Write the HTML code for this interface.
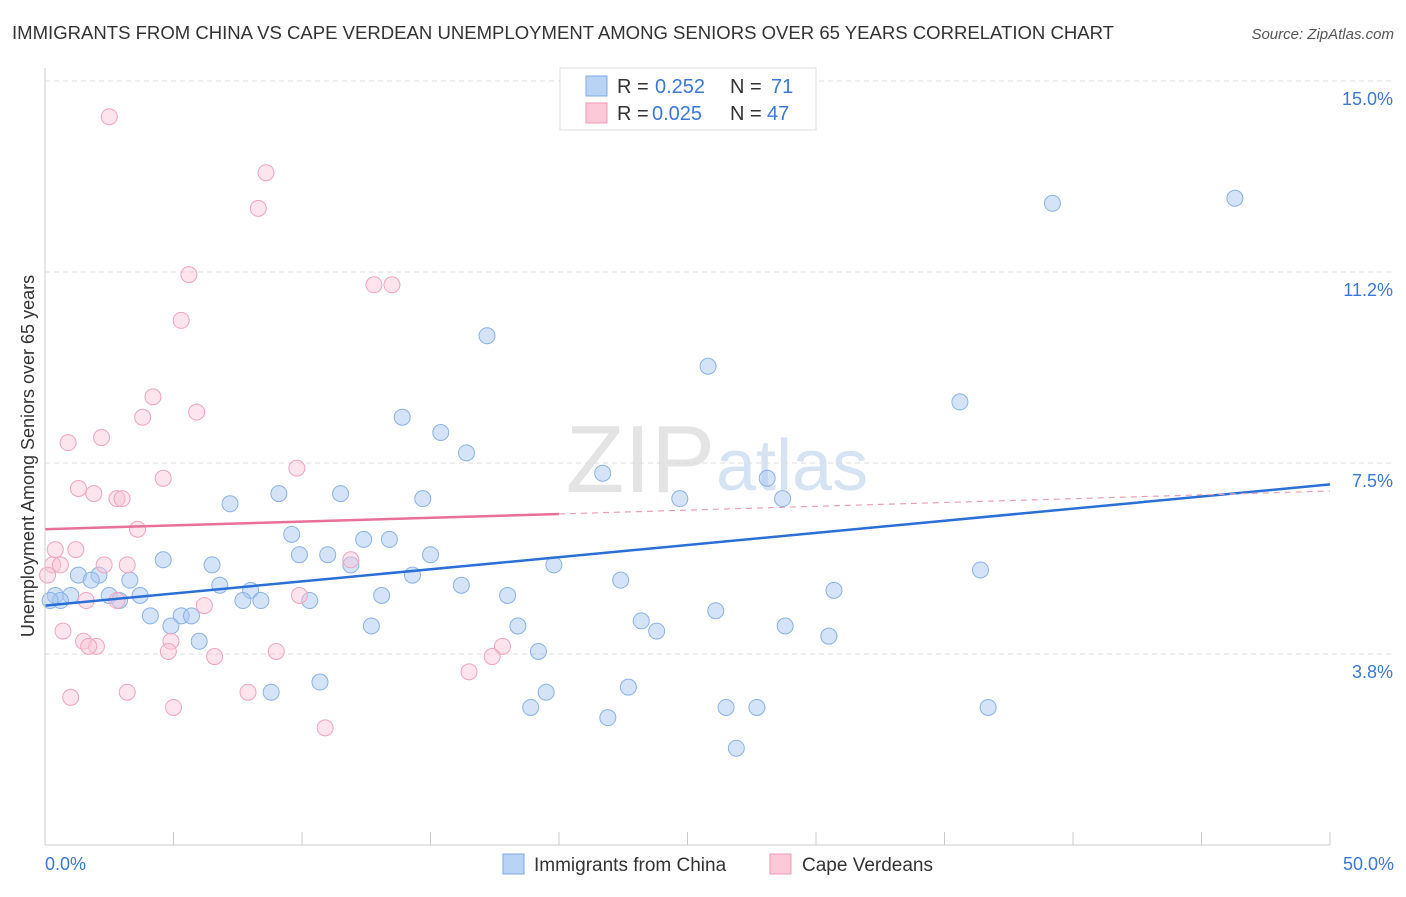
<!DOCTYPE html>
<html><head><meta charset="utf-8"><style>
body{margin:0;background:#fff;font-family:"Liberation Sans",sans-serif;}
svg text{font-family:"Liberation Sans",sans-serif;}
</style></head><body>
<svg id="chart" width="1406" height="892">
<text x="12" y="39" font-size="18" fill="#333" textLength="1102" lengthAdjust="spacingAndGlyphs">IMMIGRANTS FROM CHINA VS CAPE VERDEAN UNEMPLOYMENT AMONG SENIORS OVER 65 YEARS CORRELATION CHART</text>
<text x="1394" y="39" font-size="15" fill="#555" font-style="italic" text-anchor="end">Source: ZipAtlas.com</text>
<text x="715" y="492" font-size="96" fill="#e4e4e4" text-anchor="end" font-family="Liberation Serif">ZIP</text>
<text x="716" y="490" font-size="72" fill="#d6e3f3">atlas</text>
<text transform="translate(34,456) rotate(-90)" font-size="18" fill="#333" text-anchor="middle">Unemployment Among Seniors over 65 years</text>
<g id="grid"></g><g id="ticks"></g><g id="pts"></g><g id="lines"></g>
<line x1="45" y1="68" x2="45" y2="845" stroke="#ccc"/>
<line x1="45" y1="845" x2="1330" y2="845" stroke="#ccc"/>
<text x="45" y="870" font-size="18" fill="#3a78d4">0.0%</text>
<text x="1394" y="870" font-size="18" fill="#3a78d4" text-anchor="end">50.0%</text>
<g>
<rect x="560" y="68" width="256" height="62" fill="#fff" stroke="#ddd"/>
<rect x="586" y="76" width="21" height="20" fill="#b9d3f5" stroke="#7ea9e4"/>
<rect x="586" y="103" width="21" height="20" fill="#fbc9d8" stroke="#ef9ab5"/>
<text y="93" font-size="20" fill="#333"><tspan x="617">R =</tspan><tspan x="655" fill="#3a78d4">0.252</tspan><tspan x="730">N =</tspan><tspan x="771" fill="#3a78d4">71</tspan></text>
<text y="120" font-size="20" fill="#333"><tspan x="617">R =</tspan><tspan x="652" fill="#3a78d4">0.025</tspan><tspan x="730">N =</tspan><tspan x="767" fill="#3a78d4">47</tspan></text>
</g>
<g>
<rect x="503" y="854" width="21" height="20" fill="#b9d3f5" stroke="#7ea9e4"/>
<text x="534" y="871" font-size="19" fill="#333">Immigrants from China</text>
<rect x="770" y="854" width="21" height="20" fill="#fbc9d8" stroke="#ef9ab5"/>
<text x="802" y="871" font-size="19" fill="#333">Cape Verdeans</text>
</g>
</svg>
<script>
const yTicks=[15,11.25,7.5,3.75];
const yTickLabels=["15.0%","11.2%","7.5%","3.8%"];
const xTicks=[0,5,10,15,20,25,30,35,40,45,50];
const chinaX=[39.2,46.3,17.2,25.8,35.6,13.9,15.4,16.4,21.7,28.1,7.2,9.1,11.5,14.7,24.7,28.7,9.6,12.4,13.4,9.9,11.0,15.0,4.6,6.5,11.9,19.8,36.4,14.3,1.3,2.1,3.3,1.8,22.4,16.2,6.8,8.0,30.7,0.4,1.0,2.5,3.7,13.1,18.0,8.4,7.7,10.3,2.9,0.6,0.2,4.1,26.1,5.3,5.7,23.2,12.7,18.4,4.9,28.8,23.8,30.5,6.0,19.2,10.7,19.5,22.7,8.8,18.9,26.5,27.7,36.7,21.9,26.9];
const chinaY=[12.6,12.7,10.0,9.4,8.7,8.4,8.1,7.7,7.3,7.2,6.7,6.9,6.9,6.8,6.8,6.8,6.1,6.0,6.0,5.7,5.7,5.7,5.6,5.5,5.5,5.5,5.4,5.3,5.3,5.3,5.2,5.2,5.2,5.1,5.1,5.0,5.0,4.9,4.9,4.9,4.9,4.9,4.9,4.8,4.8,4.8,4.8,4.8,4.8,4.5,4.6,4.5,4.5,4.4,4.3,4.3,4.3,4.3,4.2,4.1,4.0,3.8,3.2,3.0,3.1,3.0,2.7,2.7,2.7,2.7,2.5,1.9];
const capeX=[2.5,8.6,8.3,5.6,12.8,13.5,5.3,4.2,5.9,3.8,2.2,0.9,9.8,4.6,1.3,1.9,2.8,3.0,3.6,0.4,1.2,0.3,0.6,3.2,2.3,11.9,0.1,9.9,1.6,2.8,6.2,0.7,4.9,1.5,2.0,1.7,17.8,17.4,4.8,6.6,9.0,16.5,3.2,7.9,1.0,5.0,10.9];
const capeY=[14.3,13.2,12.5,11.2,11.0,11.0,10.3,8.8,8.5,8.4,8.0,7.9,7.4,7.2,7.0,6.9,6.8,6.8,6.2,5.8,5.8,5.5,5.5,5.5,5.5,5.6,5.3,4.9,4.8,4.8,4.7,4.2,4.0,4.0,3.9,3.9,3.9,3.7,3.8,3.7,3.8,3.4,3.0,3.0,2.9,2.7,2.3];
const NS="http://www.w3.org/2000/svg";
const X=v=>45+v*25.7, Y=v=>845-v*50.93;
function mk(tag,attrs,parent){const e=document.createElementNS(NS,tag);for(const k in attrs)e.setAttribute(k,attrs[k]);document.getElementById(parent).appendChild(e);return e;}
yTicks.forEach((t,i)=>{
 let l=mk('line',{x1:45,x2:1394,y1:Y(t),y2:Y(t),stroke:'#ddd','stroke-dasharray':'5,4'},'grid');
 
 
 let tx=mk('text',{x:1393,y:Y(t)+24,'font-size':18,fill:'#3a78d4','text-anchor':'end'},'grid');
 tx.textContent=yTickLabels[i];
 
 
});
xTicks.forEach(t=>{
 let l=mk('line',{x1:X(t),x2:X(t),y1:832,y2:845,stroke:'#ccc'},'ticks');
 
 
});
chinaX.forEach((x,i)=>{
 let c=mk('circle',{cx:X(x),cy:Y(chinaY[i]),r:8,fill:'rgba(170,200,240,0.5)',stroke:'#8ab2e6','stroke-width':1},'pts');
 
 
});
capeX.forEach((x,i)=>{
 let c=mk('circle',{cx:X(x),cy:Y(capeY[i]),r:8,fill:'rgba(250,195,215,0.45)',stroke:'#f0a4bd','stroke-width':1},'pts');
 
 
});
let b=mk('line',{x1:X(0),y1:Y(4.7),x2:X(50),y2:Y(7.08),stroke:'#2a6fd6','stroke-width':2.5},'lines');


let p1=mk('line',{x1:X(0),y1:Y(6.2),x2:X(20),y2:Y(6.5),stroke:'#e8709a','stroke-width':2.5},'lines');


let p2=mk('line',{x1:X(20),y1:Y(6.5),x2:X(50),y2:Y(6.95),stroke:'#e8a0b8','stroke-width':1.2,'stroke-dasharray':'6,5'},'lines');


</script>
</body></html>
